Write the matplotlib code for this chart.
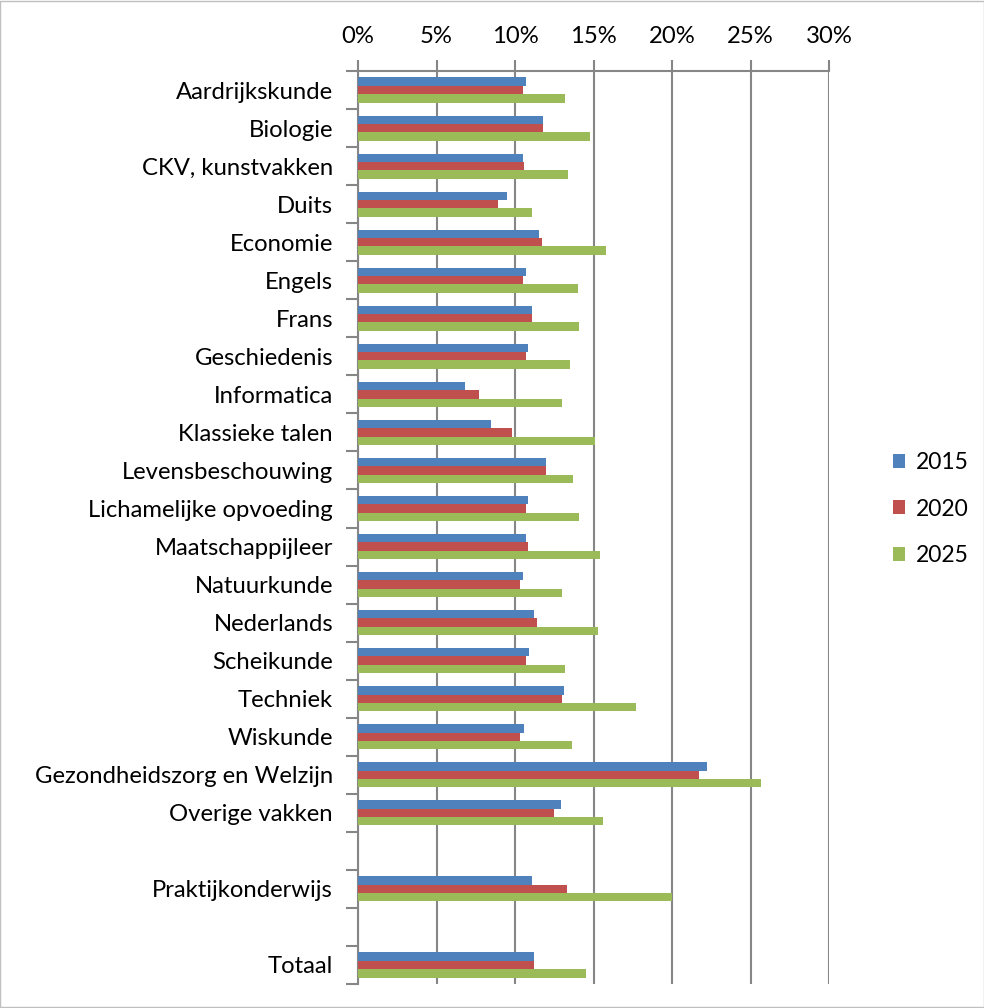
import numpy as np
import matplotlib.pyplot as plt
from matplotlib.patches import Rectangle

nan = np.nan
categories = ["Aardrijkskunde", "Biologie", "CKV, kunstvakken", "Duits", "Economie",
              "Engels", "Frans", "Geschiedenis", "Informatica", "Klassieke talen",
              "Levensbeschouwing", "Lichamelijke opvoeding", "Maatschappijleer",
              "Natuurkunde", "Nederlands", "Scheikunde", "Techniek", "Wiskunde",
              "Gezondheidszorg en Welzijn", "Overige vakken", "", "Praktijkonderwijs",
              "", "Totaal"]
v2015 = [10.7, 11.8, 10.5, 9.5, 11.5, 10.7, 11.1, 10.8, 6.8, 8.5, 12.0, 10.8,
         10.7, 10.5, 11.2, 10.9, 13.1, 10.6, 22.2, 12.9, nan, 11.1, nan, 11.2]
v2020 = [10.5, 11.8, 10.6, 8.9, 11.7, 10.5, 11.1, 10.7, 7.7, 9.8, 12.0, 10.7,
         10.8, 10.3, 11.4, 10.7, 13.0, 10.3, 21.7, 12.5, nan, 13.3, nan, 11.2]
v2025 = [13.2, 14.8, 13.4, 11.1, 15.8, 14.0, 14.1, 13.5, 13.0, 15.1, 13.7, 14.1,
         15.4, 13.0, 15.3, 13.2, 17.7, 13.6, 25.7, 15.6, nan, 20.0, nan, 14.5]
series = ["2015", "2020", "2025"]
colors = ["#4F81BD", "#C0504D", "#9BBB59"]
xticks = [0, 5, 10, 15, 20, 25, 30]

fig = plt.figure(figsize=(9.84, 10.08), dpi=100)
fig.patches.append(Rectangle((0.0005, 0.0005), 0.999, 0.999, transform=fig.transFigure,
                             fill=False, edgecolor="#BFBFBF", linewidth=1))
ax = fig.add_axes([358 / 984, 24 / 1008, (829 - 358) / 984, (984 - 71) / 1008])

font = ["Lato", "DejaVu Sans"]
fs = 17.2
y = np.arange(len(categories))
h = 0.22
for k, vals in enumerate([v2015, v2020, v2025]):
    ax.barh(y + (k - 1) * h, np.array(vals), height=h, color=colors[k],
            edgecolor="none", label=series[k], zorder=3)

ax.set_xlim(0, 30)
ax.set_ylim(len(categories) - 0.5, -0.5)
ax.xaxis.tick_top()
ax.set_xticks(xticks)
ax.set_xticklabels([f"{t}%" for t in xticks], fontsize=fs, family=font)
ax.tick_params(axis="x", length=8, width=1.5, color="#868686", pad=9)
ax.set_yticks(y)
ax.set_yticklabels(categories, fontsize=fs, family=font)
ax.set_yticks(np.arange(len(categories) + 1) - 0.5, minor=True)
ax.tick_params(axis="y", which="major", length=0, pad=18)
ax.tick_params(axis="y", which="minor", length=9, width=1.5, color="#868686")
ax.grid(axis="x", color="#868686", linewidth=1.5, zorder=0)

for s in ["right", "bottom"]:
    ax.spines[s].set_visible(False)
for s in ["left", "top"]:
    ax.spines[s].set_color("#868686")
    ax.spines[s].set_linewidth(1.5)

ax.legend(loc="center left", bbox_to_anchor=(872 / 984, 1 - 509 / 1008),
          bbox_transform=fig.transFigure, frameon=False, handlelength=0.55,
          handleheight=0.55, handletextpad=0.45, labelspacing=1.1,
          prop={"family": font, "size": 16.5})

fig.savefig("out.png", dpi=100)
